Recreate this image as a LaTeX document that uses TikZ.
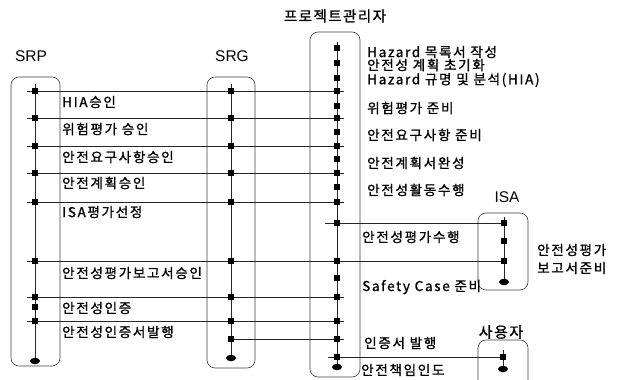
\documentclass[tikz,border=0pt]{standalone}
\usepackage{fontspec}
\usetikzlibrary{shapes.geometric}
\newfontfamily\kr{Noto Sans CJK KR}[LetterSpace=12,FakeBold=1]
\newfontfamily\krb{Noto Sans CJK KR}[LetterSpace=10,FakeBold=1.2]
\newfontfamily\lab{Liberation Sans}
\begin{document}
\begin{tikzpicture}[x=1pt,y=-1pt,
  lanebox/.style={draw=black!75,line width=0.6pt,rounded corners=8pt,inner sep=0pt},
  msg/.style={draw=black!85,line width=0.8pt},
  life/.style={draw=black!85,line width=0.8pt},
  term/.style={fill=black,ellipse,minimum width=10pt,minimum height=6.5pt,inner sep=0pt},
  txt/.style={anchor=west,inner sep=0pt,font=\kr\fontsize{13.6}{14}\selectfont},
  hdr/.style={inner sep=0pt,font=\lab\fontsize{15.5}{16}\selectfont}]
\useasboundingbox (0,0) rectangle (625,380);
\fill[white] (0,0) rectangle (625,380);

% lane boxes
\node[lanebox,minimum width=49pt,minimum height=289pt] (srpbox) at (35.5,221.5) {};
\node[lanebox,minimum width=48pt,minimum height=291pt] (srgbox) at (231,222.5) {};
\node[lanebox,minimum width=50pt,minimum height=345pt] (pmbox) at (335,204.5) {};
\node[lanebox,minimum width=50pt,minimum height=77pt] (isabox) at (503,251.5) {};
\begin{scope}
\clip (0,0) rectangle (625,380);
\node[lanebox,minimum width=50pt,minimum height=50pt] (userbox) at (503,365) {};
\end{scope}

% headers
\node[hdr] (srplab) at (31,56) {SRP};
\node[hdr] (srglab) at (232,56) {SRG};
\node[inner sep=0pt,font=\krb\fontsize{14.5}{15}\selectfont] (pmlab) at (335,16) {프로젝트관리자};
\node[hdr] (isalab) at (507,197) {ISA};
\node[inner sep=0pt,font=\krb\fontsize{15}{16}\selectfont] (userlab) at (501,332) {사용자};

% lifeline ends
\coordinate (srpT) at (35,84);
\node[term] (srpE) at (35,361) {};
\coordinate (srgT) at (231,84);
\node[term] (srgE) at (231,358) {};
\coordinate (pmT) at (337,42);
\node[term] (pmE) at (337,367) {};
\coordinate (isaT) at (504,217);
\node[term] (isaE) at (504,282) {};
\coordinate (userT) at (503,350);
\node[term] (userE) at (503,369) {};

\draw[life] (srpT) -- (srpE);
\draw[life] (srgT) -- (srgE);
\draw[life] (pmT) -- (pmE);
\draw[life] (isaT) -- (isaE);
\draw[life] (userT) -- (userE);

% messages SRP -> PM
\foreach \i/\y in {1/91,2/118,3/146,4/173,5/202,6/261,7/297,8/321}{
  \coordinate (mL\i) at (27,\y);
  \coordinate (mR\i) at (344,\y);
}
\foreach \i in {1,2,3,4,5,7,8}{ \draw[msg] (mL\i) -- (mR\i); }
\coordinate (isa261) at (504,261);
\draw[msg] (mL6) -- (isa261);
% PM -> ISA
\coordinate (pm223) at (325,223);
\coordinate (isa223) at (504,223);
\draw[msg] (pm223) -- (isa223);
% SRG -> PM
\coordinate (srg339) at (231,339);
\coordinate (pm339) at (344,339);
\draw[msg] (srg339) -- (pm339);
% PM -> user
\coordinate (pm357) at (328,357);
\coordinate (user357) at (503,357);
\draw[msg] (pm357) -- (user357);

% event dots
\foreach \y in {91,118,146,173,202,261,297,307,321}{ \fill (32.3,\y-2.7) rectangle ++(5.4,5.4); }
\foreach \y in {91,118,146,173,202,261,297,321,339}{ \fill (228.3,\y-2.7) rectangle ++(5.4,5.4); }
\foreach \y in {48,63,78,91,106,118,132,146,159,173,187,202,223,261,278,297,321,339,357}{ \fill (334.3,\y-2.7) rectangle ++(5.4,5.4); }
\foreach \y in {223,241,261}{ \fill (501.3,\y-2.7) rectangle ++(5.4,5.4); }
\fill (500.3,357-2.7) rectangle ++(5.4,5.4);

% left labels
\node[txt] (t1) at (62,102) {HIA승인};
\node[txt] (t2) at (62,129) {위험평가 승인};
\node[txt] (t3) at (62,157) {안전요구사항승인};
\node[txt] (t4) at (62,183) {안전계획승인};
\node[txt] (t5) at (62,212) {ISA평가선정};
\node[txt] (t6) at (62,273) {안전성평가보고서승인};
\node[txt] (t7) at (62,308) {안전성인증};
\node[txt] (t8) at (62,332) {안전성인증서발행};

% PM labels
\node[txt] (p1) at (367,52) {Hazard 목록서 작성};
\node[txt] (p2) at (367,65) {안전성 계획 초기화};
\node[txt] (p3) at (367,80) {Hazard 규명 및 분석(HIA)};
\node[txt] (p4) at (367,108) {위험평가 준비};
\node[txt] (p5) at (367,135) {안전요구사항 준비};
\node[txt] (p6) at (367,163) {안전계획서완성};
\node[txt] (p7) at (367,190) {안전성활동수행};
\node[txt] (p8) at (362,237) {안전성평가수행};
\node[txt] (p9) at (362,287) {Safety Case 준비};
\node[txt] (p10) at (364,343) {인증서 발행};
\node[txt] (p11) at (361,370) {안전책임인도};

% ISA labels
\node[txt] (i1) at (537,250) {안전성평가};
\node[txt] (i2) at (537,268) {보고서준비};
\end{tikzpicture}
\end{document}
